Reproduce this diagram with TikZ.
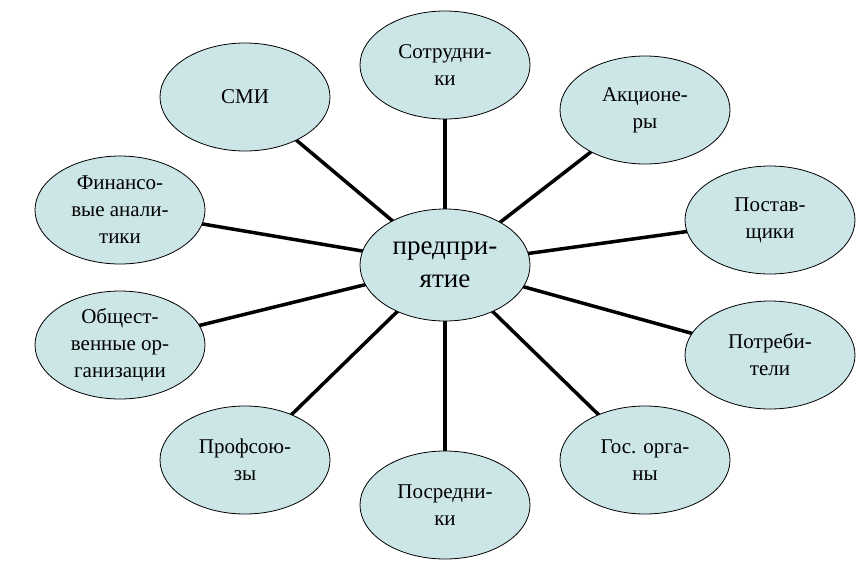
\documentclass[tikz,border=0pt]{standalone}
\usepackage{fontspec}
\setmainfont{Liberation Serif}
\usetikzlibrary{shapes.geometric}
\definecolor{bub}{RGB}{204,230,232}
\tikzset{
 bubble/.style={ellipse, draw=black, line width=0.8pt, fill=bub, minimum width=170pt, minimum height=108pt, align=center, font=\rmfamily\fontsize{21}{27}\selectfont, inner sep=0pt},
 link/.style={line width=3.5pt, black}
}
\begin{document}
\begin{tikzpicture}[x=1pt,y=-1pt]
\useasboundingbox (0,0) rectangle (866,560);
\foreach \p/\q in {445/65,245/97,645/110,120/210,770/220,120/345,770/355,245/460,445/505,645/460}
  \draw[link] (445,265) -- (\p,\q);
\node[bubble, minimum height=112pt, font=\rmfamily\fontsize{27}{33}\selectfont] (c) at (445,265) {предпри-\\ятие};
\node[bubble] (a) at (445,65) {Сотрудни-\\ки};
\node[bubble] (b) at (245,97) {СМИ};
\node[bubble] (d) at (645,110) {Акционе-\\ры};
\node[bubble] (e) at (120,210) {Финансо-\\вые анали-\\тики};
\node[bubble] (f) at (770,220) {Постав-\\щики};
\node[bubble] (g) at (120,345) {Общест-\\венные ор-\\ганизации};
\node[bubble] (h) at (770,355) {Потреби-\\тели};
\node[bubble] (i) at (245,460) {Профсою-\\зы};
\node[bubble] (j) at (445,505) {Посредни-\\ки};
\node[bubble] (k) at (645,460) {Гос. орга-\\ны};
\end{tikzpicture}
\end{document}
